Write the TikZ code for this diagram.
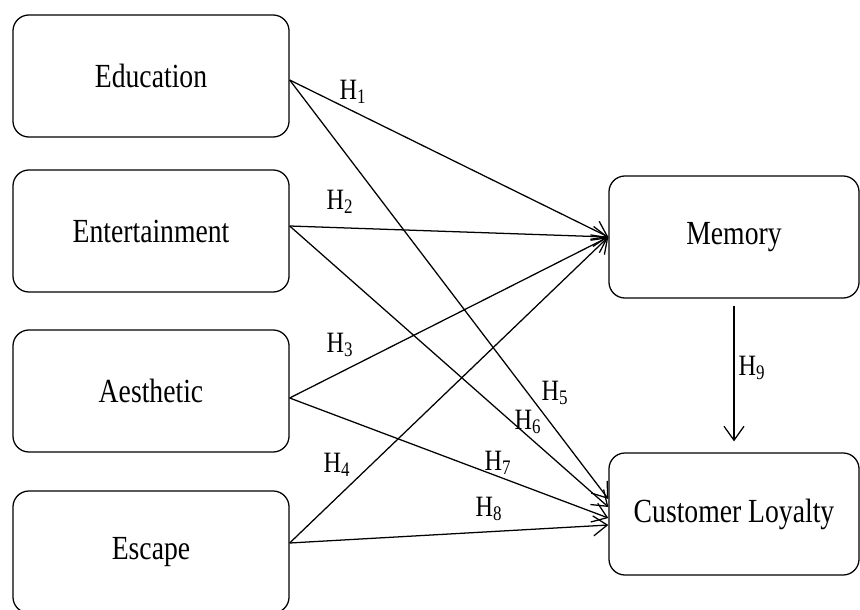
\documentclass[tikz,border=0pt]{standalone}
\usepackage{fontspec}
\setmainfont{Liberation Serif}[FakeStretch=0.82]
\usetikzlibrary{arrows.meta}

\begin{document}
\begin{tikzpicture}[x=0.025cm, y=-0.025cm,
    box/.style={draw, rounded corners=0.4cm, line width=0.9pt,
        minimum width=6.9cm, minimum height=3.05cm,
        font=\fontsize{24}{28}\selectfont},
    link/.style={-{Straight Barb[length=3.5mm,width=5mm]}, line width=0.9pt},
    hyp/.style={inner sep=0pt, font=\fontsize{21}{24}\selectfont}]
    \useasboundingbox (0,0) rectangle (860,610);
    \clip (0,0) rectangle (860,610);

    % Experience dimensions
    \node[box] (edu) at (151,76) {Education};
    \node[box] (ent) at (151,231) {Entertainment};
    \node[box] (aes) at (151,391) {Aesthetic};
    \node[box] (esc) at (151,552) {Escape};

    % Outcomes
    \node[box, minimum width=6.25cm] (mem) at (734,237) {Memory};
    \node[box, minimum width=6.25cm] (loy) at (734,514) {Customer Loyalty};

    % Paths to memory
    \draw[link] ([yshift=-0.1cm]edu.east) -- (mem.west);
    \draw[link] ([yshift=0.125cm]ent.east) -- (mem.west);
    \draw[link] ([yshift=-0.175cm]aes.east) -- (mem.west);
    \draw[link] ([yshift=0.225cm]esc.east) -- (mem.west);

    % Paths to loyalty
    \draw[link] ([yshift=-0.1cm]edu.east) -- ([yshift=0.375cm]loy.west);
    \draw[link] ([yshift=0.125cm]ent.east) -- ([yshift=0.175cm]loy.west);
    \draw[link] ([yshift=-0.175cm]aes.east) -- ([yshift=-0.1cm]loy.west);
    \draw[link] ([yshift=0.225cm]esc.east) -- ([yshift=-0.275cm]loy.west);
    \draw[link] ([yshift=-0.175cm]mem.south) -- ([yshift=0.275cm]loy.north);

    % Hypotheses
    \node[hyp] (h1) at (353,92) {H\textsubscript{1}};
    \node[hyp] (h2) at (340,202) {H\textsubscript{2}};
    \node[hyp] (h3) at (340,345) {H\textsubscript{3}};
    \node[hyp] (h4) at (337,465) {H\textsubscript{4}};
    \node[hyp] (h5) at (555,393) {H\textsubscript{5}};
    \node[hyp] (h6) at (528,422) {H\textsubscript{6}};
    \node[hyp] (h7) at (498,463) {H\textsubscript{7}};
    \node[hyp] (h8) at (489,509) {H\textsubscript{8}};
    \node[hyp] (h9) at (752,368) {H\textsubscript{9}};
\end{tikzpicture}
\end{document}
